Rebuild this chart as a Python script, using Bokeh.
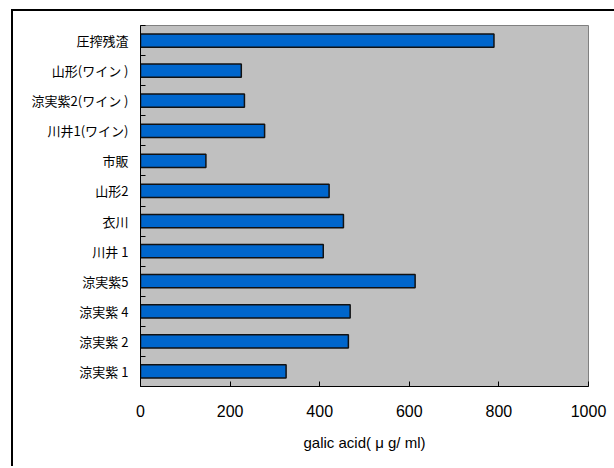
from bokeh.plotting import figure
from bokeh.models import FixedTicker, Range1d, ColumnDataSource
from bokeh.embed import file_html
from bokeh.resources import INLINE

# categories, bottom to top
categories = ["涼実紫 1", "涼実紫 2", "涼実紫 4", "涼実紫5", "川井 1", "衣川", "山形2",
              "市販", "川井1(ワイン)", "涼実紫2(ワイン )", "山形(ワイン )", "圧搾残渣"]
values = [325, 464, 468, 613, 408, 453, 421, 146, 277, 232, 225, 789]
x_ticks = [0, 200, 400, 600, 800, 1000]
x_label = "galic acid( μ g/ ml)"

pos = [i + 0.5 for i in range(len(categories))]
src = ColumnDataSource(dict(y=pos, v=values, cat=categories))

p = figure(width=601, height=455, output_backend="svg", toolbar_location=None,
           x_range=Range1d(0, 1000), y_range=Range1d(0, len(categories)),
           min_border_left=127, min_border_right=28, min_border_top=14, min_border_bottom=82,
           margin=(9, 0, 0, 11),
           styles={"border-left": "2px solid black", "border-top": "2px solid black",
                   "border-right": "0px none", "border-bottom": "0px none",
                   "box-sizing": "content-box"})

p.background_fill_color = "#C0C0C0"
p.border_fill_color = "white"
p.outline_line_color = "#808080"
p.outline_line_width = 1
p.xgrid.visible = False
p.ygrid.visible = False

p.hbar(y="y", right="v", left=0, height=0.44, source=src,
       fill_color="#0066CC", line_color="#111111", line_width=1.5)

# y axis
p.yaxis.ticker = FixedTicker(ticks=pos, minor_ticks=list(range(len(categories) + 1)))
p.yaxis.major_label_overrides = {pp: c for pp, c in zip(pos, categories)}
p.yaxis.major_tick_in = 0
p.yaxis.major_tick_out = 0
p.yaxis.minor_tick_in = 5
p.yaxis.minor_tick_out = 0
p.yaxis.minor_tick_line_color = "black"
p.yaxis.axis_line_color = "black"
p.yaxis.major_label_standoff = 12
p.yaxis.major_label_text_font = "Noto Sans CJK JP"
p.yaxis.major_label_text_font_size = "13px"
p.yaxis.major_label_text_color = "black"

# x axis
p.xaxis.ticker = FixedTicker(ticks=x_ticks)
p.xaxis.major_tick_in = 5
p.xaxis.major_tick_out = 0
p.xaxis.minor_tick_line_color = None
p.xaxis.axis_line_color = "black"
p.xaxis.major_label_standoff = 18
p.xaxis.major_label_text_font = "Liberation Sans"
p.xaxis.major_label_text_font_size = "16px"
p.xaxis.major_label_text_color = "black"
p.xaxis.axis_label = x_label
p.xaxis.axis_label_standoff = 14
p.xaxis.axis_label_text_font = "Liberation Sans"
p.xaxis.axis_label_text_font_size = "15px"
p.xaxis.axis_label_text_font_style = "normal"
p.xaxis.axis_label_text_color = "black"

open("out.html", "w").write(file_html(p, INLINE))
